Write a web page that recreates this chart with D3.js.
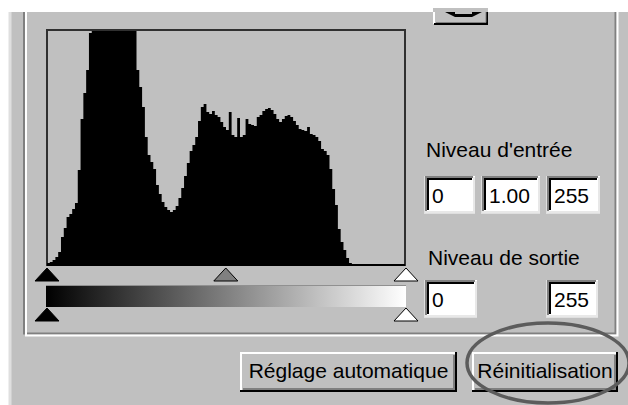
<!DOCTYPE html>
<meta charset="UTF-8">
<script src="https://d3js.org/d3.v7.min.js"></script>
<style>
body { margin: 0; background: #fff; }
text { font-family: "Liberation Sans", Arial, sans-serif; font-size: 21px; fill: #000; }
</style>
<div id="my_dataviz"></div>
<script>

// histogram counts, 128 bins of 2 levels each (display units, top is clipped at 234)
var histCounts = [
  2, 3, 5, 8, 13, 28, 37, 48, 51, 56, 62, 95, 146, 172, 195, 232,
  255, 275, 295, 310, 322, 330, 335, 336, 333, 325, 314, 300, 285, 270, 255, 242,
  195, 178, 158, 128, 110, 103, 96, 80, 71, 63, 58, 55, 53, 55, 59, 67,
  77, 89, 102, 114, 120, 128, 144, 158, 161, 153, 151, 154, 150, 148, 143, 138,
  135, 153, 130, 128, 147, 128, 130, 146, 141, 140, 139, 148, 150, 154, 156, 157,
  155, 151, 146, 143, 146, 149, 150, 148, 144, 140, 136, 135, 134, 138, 131, 130,
  128, 124, 116, 114, 110, 96, 76, 60, 36, 23, 15, 7, 2, 1, 1, 1,
  1, 1, 1, 1, 1, 1, 1, 1, 1, 1, 1, 1, 1, 1, 1, 1
]
var histMax = 234

// slider handles: level + colour
var inputHandles = [0, 127, 255]
var inputHandleFill = ["#000", "#808080", "#fff"]
var outputHandles = [0, 255]
var outputHandleFill = ["#000", "#fff"]

// texts
var inputLabel = "Niveau d'entrée"
var outputLabel = "Niveau de sortie"
var inputValues = ["0", "1.00", "255"]
var outputValues = ["0", "255"]
var buttonLabels = ["Réglage automatique", "Réinitialisation"]

var width = 628
var height = 405

var svg = d3.select("#my_dataviz")
  .append("svg")
    .attr("width", width)
    .attr("height", height)
    .style("display", "block")

// dialog background
svg.append("rect").attr("width", width).attr("height", height).attr("fill", "#fff")
svg.append("rect").attr("x", 9).attr("y", 12).attr("width", width - 9).attr("height", height - 12).attr("fill", "#c0c0c0")
svg.append("line").attr("x1", 10).attr("x2", 10).attr("y1", 12).attr("y2", height)
  .attr("stroke", "#dfdfdf").attr("stroke-width", 3)

// etched group box (top is off screen)
var etched = function(off, col) {
  svg.append("path")
    .attr("d", "M" + (24 + off) + ",12 V" + (333.5 + off) + " H" + (615.5 + off) + " V12")
    .attr("fill", "none").attr("stroke", col).attr("stroke-width", 2)
}
etched(0, "#808080")
etched(2, "#fff")

// little button at top
svg.append("rect").attr("x", 433).attr("y", 8).attr("width", 55).attr("height", 17).attr("fill", "#c0c0c0")
svg.append("path").attr("d", "M434,12 V24").attr("stroke", "#fff").attr("stroke-width", 2)
svg.append("path").attr("d", "M434,24 H487 V12").attr("fill", "none").attr("stroke", "#000").attr("stroke-width", 2)
svg.append("path").attr("d", "M436,22.5 H486 V12").attr("fill", "none").attr("stroke", "#808080").attr("stroke-width", 1)
svg.append("path").attr("d", "M445,12 L455,12 L455,14 L472,14 L472,12 L482,12 L472,17 L455,17 Z").attr("fill", "#000")

// histogram
var x = d3.scaleLinear().domain([0, 256]).range([47, 405])
var y = d3.scaleLinear().domain([0, histMax]).range([265, 31]).clamp(true)

svg.append("rect")
  .attr("x", 47).attr("y", 30).attr("width", 358).attr("height", 235)
  .attr("fill", "#c0c0c0").attr("stroke", "#303030").attr("stroke-width", 2)

var pts = histCounts.map(function(d, i) { return [i * 2, d] })
pts.push([256, histCounts[histCounts.length - 1]])

var area = d3.area()
  .curve(d3.curveStepAfter)
  .x(function(d) { return x(d[0]) })
  .y0(266)
  .y1(function(d) { return y(d[1]) })

svg.append("path").datum(pts).attr("d", area).attr("fill", "#000")

// slider handles
var sx = d3.scaleLinear().domain([0, 255]).range([47, 406])
var tri = function(cx, top) {
  return "M" + cx + "," + top + " L" + (cx + 12) + "," + (top + 13) + " L" + (cx - 12) + "," + (top + 13) + " Z"
}
svg.append("g").selectAll("path")
  .data(inputHandles)
  .enter().append("path")
    .attr("d", function(d) { return tri(sx(d), 268) })
    .attr("fill", function(d, i) { return inputHandleFill[i] })
    .attr("stroke", "#000").attr("stroke-width", 1)

// gradient bar
var grad = svg.append("defs").append("linearGradient").attr("id", "grey")
grad.append("stop").attr("offset", "0%").attr("stop-color", "#000")
grad.append("stop").attr("offset", "100%").attr("stop-color", "#fff")
svg.append("rect").attr("x", sx(0) - 1).attr("y", 286).attr("width", sx(255) - sx(0) + 1).attr("height", 21)
  .attr("fill", "url(#grey)")
svg.append("line").attr("x1", sx(0) - 1).attr("x2", sx(255)).attr("y1", 285.5).attr("y2", 285.5)
  .attr("stroke", "#909090").attr("stroke-width", 1)

svg.append("g").selectAll("path")
  .data(outputHandles)
  .enter().append("path")
    .attr("d", function(d) { return tri(sx(d), 308) })
    .attr("fill", function(d, i) { return outputHandleFill[i] })
    .attr("stroke", "#000").attr("stroke-width", 1)

// edit boxes
var editBox = function(bx, by, bw, bh, label) {
  svg.append("rect").attr("x", bx).attr("y", by).attr("width", bw).attr("height", bh).attr("fill", "#fff")
  svg.append("path").attr("d", "M" + (bx + bw) + "," + (by + bh) + " H" + bx + " V" + by)
    .attr("fill", "none").attr("stroke", "#dfdfdf").attr("stroke-width", 2)
    .attr("transform", "translate(0,0)")
  svg.append("path").attr("d", "M" + (bx + bw - 1) + "," + (by + bh - 1) + " V" + (by + 1))
    .attr("stroke", "#e8e8e8").attr("stroke-width", 2)
  svg.append("path").attr("d", "M" + bx + "," + (by + bh - 1) + " H" + (bx + bw))
    .attr("stroke", "#e8e8e8").attr("stroke-width", 2)
  svg.append("path").attr("d", "M" + (bx + 1) + "," + (by + bh - 2) + " V" + (by + 1) + " H" + (bx + bw - 2))
    .attr("fill", "none").attr("stroke", "#808080").attr("stroke-width", 2)
  svg.append("path").attr("d", "M" + (bx + 3) + "," + (by + bh - 3) + " V" + (by + 3) + " H" + (bx + bw - 3))
    .attr("fill", "none").attr("stroke", "#000").attr("stroke-width", 2)
  svg.append("text").attr("x", bx + 7).attr("y", by + 27).text(label)
}

svg.append("text").attr("x", 426).attr("y", 157).text(inputLabel)
var inBoxX = [425, 482, 547]
var inBoxW = [50, 58, 53]
inputValues.forEach(function(v, i) { editBox(inBoxX[i], 176, inBoxW[i], 37, v) })

svg.append("text").attr("x", 428).attr("y", 265).text(outputLabel)
var outBoxX = [425, 547]
var outBoxW = [52, 51]
outputValues.forEach(function(v, i) { editBox(outBoxX[i], 280, outBoxW[i], 37, v) })

// push buttons
var button = function(bx, bw, label) {
  var by = 352, bh = 40
  svg.append("rect").attr("x", bx).attr("y", by).attr("width", bw).attr("height", bh).attr("fill", "#c0c0c0")
  svg.append("path").attr("d", "M" + (bx + 1) + "," + (by + bh - 1) + " V" + (by + 1) + " H" + (bx + bw - 1))
    .attr("fill", "none").attr("stroke", "#fff").attr("stroke-width", 2)
  svg.append("path").attr("d", "M" + (bx + 3) + "," + (by + bh - 3) + " H" + (bx + bw - 3) + " V" + (by + 3))
    .attr("fill", "none").attr("stroke", "#808080").attr("stroke-width", 2)
  svg.append("path").attr("d", "M" + bx + "," + (by + bh - 1) + " H" + (bx + bw - 1) + " V" + by)
    .attr("fill", "none").attr("stroke", "#000").attr("stroke-width", 2)
  svg.append("text").attr("x", bx + bw / 2).attr("y", 378).attr("text-anchor", "middle").text(label)
}
button(240, 217, buttonLabels[0])
button(472, 146, buttonLabels[1])

// hand drawn highlight ellipse
svg.append("ellipse")
  .attr("cx", 548).attr("cy", 363).attr("rx", 81).attr("ry", 40)
  .attr("fill", "none").attr("stroke", "#5c5c5c").attr("stroke-width", 3.5)

</script>
